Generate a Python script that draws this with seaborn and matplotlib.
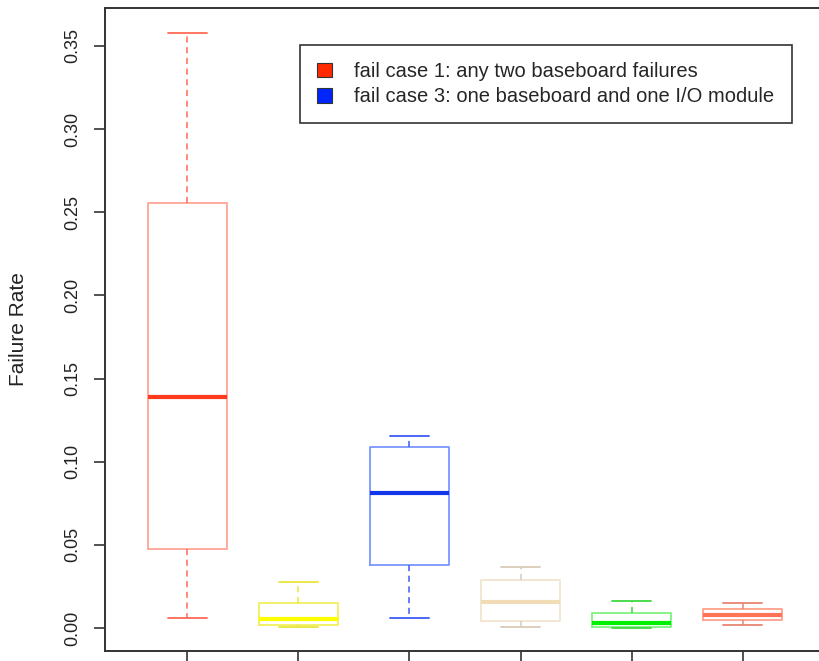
import matplotlib
matplotlib.use("Agg")
import matplotlib.pyplot as plt
import matplotlib.patches as mpatches
import seaborn as sns

sns.set_theme(style="white")
plt.rcParams['font.family'] = ['Liberation Sans', 'DejaVu Sans']

# five-number summaries: low whisker, q1, median, q3, high whisker
case_1 = [0.006, 0.0475, 0.139, 0.2556, 0.358]
case_2 = [0.0004, 0.0018, 0.0054, 0.0152, 0.0275]
case_3 = [0.006, 0.0379, 0.0812, 0.1088, 0.1155]
case_4 = [0.0004, 0.0044, 0.0158, 0.0289, 0.0369]
case_5 = [0.0, 0.0008, 0.0032, 0.0088, 0.016]
case_6 = [0.0016, 0.0048, 0.0078, 0.0116, 0.0148]
groups = [case_1, case_2, case_3, case_4, case_5, case_6]
positions = [1, 2, 3, 4, 5, 6]

# box edge, whisker, median colours per group
box_colors = ["#ffa595", "#f2ef5a", "#7b95ff", "#f2e4cf", "#7ef27e", "#ffa08a"]
whisker_colors = ["#ff6a55", "#e9e63a", "#3d5cf5", "#d9cbb5", "#3fd83f", "#e68672"]
median_colors = ["#ff3a1c", "#ffff00", "#1236ea", "#f2dcb8", "#00f000", "#ff7458"]

legend_labels = ["fail case 1: any two baseboard failures",
                 "fail case 3: one baseboard and one I/O module"]
legend_colors = ["#ff2a00", "#0026ff"]
yticks = [0.00, 0.05, 0.10, 0.15, 0.20, 0.25, 0.30, 0.35]

fig = plt.figure(figsize=(8.19, 6.61), dpi=100)
ax = fig.add_axes([105 / 819, 10 / 661, 720 / 819, 643 / 661])

for pos, vals, bc, wc, mc in zip(positions, groups, box_colors, whisker_colors, median_colors):
    sns.boxplot(x=[pos] * len(vals), y=vals, native_scale=True, fill=False,
                color=bc, saturation=1, width=0.71, linewidth=1.3, whis=1.5,
                showfliers=False, ax=ax,
                whiskerprops=dict(color=wc, linestyle=(0, (4, 3)), linewidth=1.1),
                capprops=dict(color=wc, linewidth=1.3),
                medianprops=dict(color=mc, linewidth=3))

ax.set_xlim(0.26, 6.74)
ax.set_ylim(-0.0138, 0.3728)
ax.set_xticks(positions)
ax.set_xticklabels([""] * len(positions))
ax.set_yticks(yticks)
ax.set_yticklabels([f"{t:.2f}" for t in yticks], rotation=90, va="center")
ax.tick_params(axis="both", direction="out", length=8, width=1.2, color="#333333",
               labelsize=13, labelcolor="#222222", left=True, bottom=True)
ax.tick_params(axis="y", pad=9)
ax.set_xlabel("")
ax.set_ylabel("Failure Rate", fontsize=15, color="#222222", labelpad=26)
for side in ax.spines.values():
    side.set_visible(True)
    side.set_color("#333333")
    side.set_linewidth(1.4)

handles = [mpatches.Patch(facecolor=c, edgecolor="#333333", linewidth=0.8) for c in legend_colors]
leg = ax.legend(handles, legend_labels, loc="upper left",
                bbox_to_anchor=(300 / 819, 1 - 45 / 661), bbox_transform=fig.transFigure,
                fontsize=14.5, frameon=True, fancybox=False, framealpha=1,
                edgecolor="#333333", handlelength=0.75, handleheight=0.75,
                handletextpad=1.1, borderpad=0.85, labelspacing=0.3, borderaxespad=0)
leg.get_frame().set_linewidth(1.2)

fig.savefig("out.png", dpi=100)
